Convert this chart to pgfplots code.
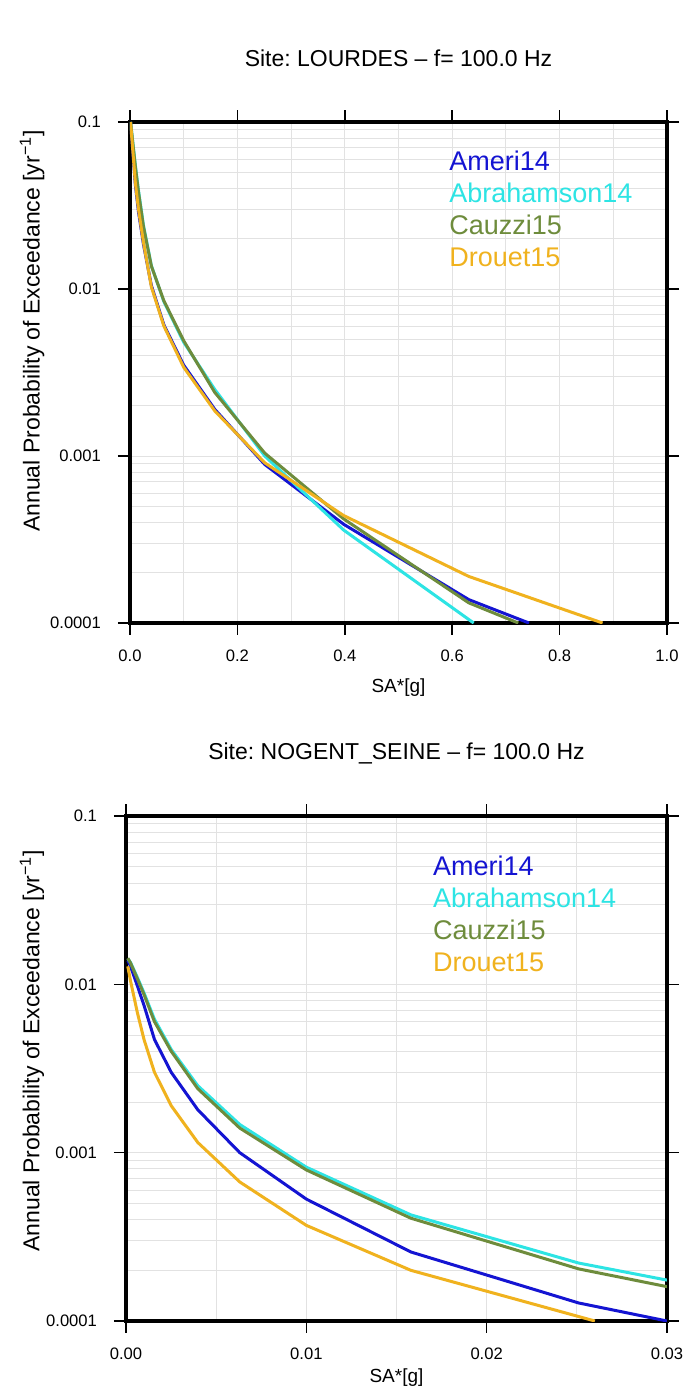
\documentclass[border=0pt]{standalone}
\usepackage{pgfplots}
\pgfplotsset{compat=1.18}
\usepackage{fontspec}
\setmainfont{Liberation Sans}
\frenchspacing
\definecolor{cAm}{RGB}{20,20,210}
\definecolor{cAb}{RGB}{45,228,228}
\definecolor{cCa}{RGB}{110,140,60}
\definecolor{cDr}{RGB}{240,178,30}
\definecolor{gridc}{RGB}{226,226,226}
\begin{document}
\begin{tikzpicture}[x=1pt,y=1pt]
\path[use as bounding box, fill=white] (0,0) rectangle (348,694.5);
% ---------------- top panel ----------------
\begin{axis}[
  scale only axis,
  at={(65pt,383pt)}, anchor=south west,
  width=268.5pt, height=250.5pt,
  ymode=log, ymin=1e-4, ymax=0.1,
  ytick={1e-4,1e-3,1e-2,1e-1}, yticklabels={0.0001,0.001,0.01,0.1},
  xmin=0, xmax=1,
  xtick={0,0.2,0.4,0.6,0.8,1.0}, xticklabels={0.0,0.2,0.4,0.6,0.8,1.0},
  minor xtick={0.1,0.3,0.5,0.7,0.9},
  tick align=outside, tick pos=both,
  major tick length=6pt, minor tick length=0pt,
  xmajorgrids, xminorgrids, ymajorgrids, yminorgrids,
  major grid style={gridc, line width=0.5pt},
  minor grid style={gridc, line width=0.5pt},
  axis line style={line width=2pt},
  major tick style={black, line width=0.8pt},
  /pgf/number format/assume math mode=true,
  tick label style={font=\fontsize{8.3}{10}\selectfont},
  xticklabel shift=4pt, yticklabel shift=5pt,
  title={Site: LOURDES – f= 100.0 Hz},
  title style={font=\fontsize{11.5}{14}\selectfont, anchor=center, at={(axis description cs:0.5,1)}, yshift=26pt},
  xlabel={SA*[g]},
  xlabel style={font=\fontsize{9.5}{11}\selectfont, at={(axis description cs:0.5,0)}, anchor=center, yshift=-32.5pt},
  ylabel={Annual Probability of Exceedance [yr\textsuperscript{−1}]},
  ylabel style={font=\fontsize{11.5}{14}\selectfont, anchor=center, at={(axis description cs:-0.1825,0.583)}},
  every axis plot/.append style={line width=1.5pt, line join=round},
]
\addplot[color=cAm] coordinates {(0.001,0.1) (0.01,0.042) (0.0158,0.029) (0.0251,0.0185) (0.0398,0.0105) (0.0631,0.0061) (0.1,0.0035) (0.158,0.0019) (0.251,0.00089) (0.398,0.00039) (0.631,0.000138) (0.743,0.0001)};
\addplot[color=cAb] coordinates {(0.001,0.1) (0.01,0.055) (0.0158,0.039) (0.0251,0.024) (0.0398,0.0138) (0.0631,0.0084) (0.1,0.0048) (0.158,0.0025) (0.251,0.00100) (0.398,0.00036) (0.64,0.0001)};
\addplot[color=cCa] coordinates {(0.001,0.1) (0.01,0.054) (0.0158,0.038) (0.0251,0.0236) (0.0398,0.0137) (0.0631,0.0085) (0.1,0.0049) (0.158,0.0024) (0.251,0.00104) (0.398,0.00042) (0.631,0.000132) (0.723,0.0001)};
\addplot[color=cDr] coordinates {(0.001,0.1) (0.01,0.043) (0.0158,0.030) (0.0251,0.019) (0.0398,0.0103) (0.0631,0.0060) (0.1,0.0034) (0.158,0.00186) (0.251,0.00091) (0.398,0.00044) (0.631,0.00019) (0.88,0.0001)};
\node[anchor=north west, inner sep=0pt, align=left, font=\fontsize{13.5}{16}\selectfont] at (axis description cs:0.594,0.944)
  {\textcolor{cAm}{Ameri14}\\ \textcolor{cAb}{Abrahamson14}\\ \textcolor{cCa}{Cauzzi15}\\ \textcolor{cDr}{Drouet15}};
\end{axis}
% ---------------- bottom panel ----------------
\begin{axis}[
  scale only axis,
  at={(63pt,34pt)}, anchor=south west,
  width=270.5pt, height=252.5pt,
  ymode=log, ymin=1e-4, ymax=0.1,
  ytick={1e-4,1e-3,1e-2,1e-1}, yticklabels={0.0001,0.001,0.01,0.1},
  xmin=0, xmax=0.03,
  xtick={0,0.01,0.02,0.03}, xticklabels={0.00,0.01,0.02,0.03},
  minor xtick={0.005,0.015,0.025},
  scaled x ticks=false,
  tick align=outside, tick pos=both,
  major tick length=6pt, minor tick length=0pt,
  xmajorgrids, xminorgrids, ymajorgrids, yminorgrids,
  major grid style={gridc, line width=0.5pt},
  minor grid style={gridc, line width=0.5pt},
  axis line style={line width=2pt},
  major tick style={black, line width=0.8pt},
  /pgf/number format/assume math mode=true,
  tick label style={font=\fontsize{8.3}{10}\selectfont},
  xticklabel shift=4pt, yticklabel shift=5pt,
  title={Site: NOGENT\_SEINE – f= 100.0 Hz},
  title style={font=\fontsize{11.5}{14}\selectfont, anchor=center, at={(axis description cs:0.5,1)}, yshift=25.5pt},
  xlabel={SA*[g]},
  xlabel style={font=\fontsize{9.5}{11}\selectfont, at={(axis description cs:0.5,0)}, anchor=center, yshift=-28.5pt},
  ylabel={Annual Probability of Exceedance [yr\textsuperscript{−1}]},
  ylabel style={font=\fontsize{11.5}{14}\selectfont, anchor=center, at={(axis description cs:-0.1738,0.535)}},
  every axis plot/.append style={line width=1.5pt, line join=round},
]
\addplot[color=cAm] coordinates {(0.0001,0.0139) (0.00025,0.0128) (0.00063,0.0098) (0.001,0.0075) (0.00158,0.0047) (0.00251,0.0030) (0.00398,0.0018) (0.00631,0.00100) (0.01,0.00053) (0.0158,0.000257) (0.0251,0.000128) (0.03,0.0001)};
\addplot[color=cAb] coordinates {(0.0001,0.0142) (0.00025,0.0135) (0.00063,0.011) (0.001,0.0089) (0.00158,0.0062) (0.00251,0.0041) (0.00398,0.0025) (0.00631,0.00147) (0.01,0.00082) (0.0158,0.000427) (0.0251,0.000221) (0.03,0.000175)};
\addplot[color=cCa] coordinates {(0.0001,0.0143) (0.00025,0.0134) (0.00063,0.0108) (0.001,0.0087) (0.00158,0.0060) (0.00251,0.0040) (0.00398,0.0024) (0.00631,0.00140) (0.01,0.00079) (0.0158,0.000408) (0.0251,0.000204) (0.03,0.00016)};
\addplot[color=cDr] coordinates {(0.0001,0.0128) (0.00025,0.0105) (0.00063,0.0068) (0.001,0.0047) (0.00158,0.0030) (0.00251,0.0019) (0.00398,0.00115) (0.00631,0.00067) (0.01,0.00037) (0.0158,0.0002) (0.026,0.0001)};
\node[anchor=north west, inner sep=0pt, align=left, font=\fontsize{13.5}{16}\selectfont] at (axis description cs:0.567,0.921)
  {\textcolor{cAm}{Ameri14}\\ \textcolor{cAb}{Abrahamson14}\\ \textcolor{cCa}{Cauzzi15}\\ \textcolor{cDr}{Drouet15}};
\end{axis}
\end{tikzpicture}
\end{document}
